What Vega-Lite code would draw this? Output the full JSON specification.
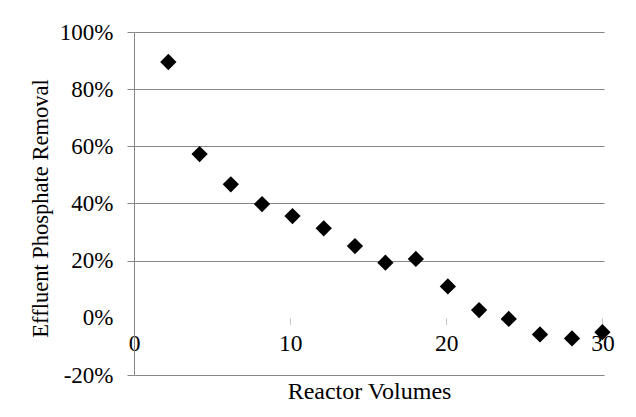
{
  "$schema": "https://vega.github.io/schema/vega-lite/v6.json",
  "width": 470,
  "height": 343,
  "autosize": "none",
  "padding": {"left": 134, "top": 32, "right": 32, "bottom": 42},
  "background": "white",
  "config": {
    "view": {"stroke": null},
    "font": "Liberation Serif",
    "axis": {"labelFont": "Liberation Serif", "titleFont": "Liberation Serif"}
  },
  "data": {"values": [
    {"volumes": 2.2, "removal": 0.895},
    {"volumes": 4.2, "removal": 0.573},
    {"volumes": 6.2, "removal": 0.467},
    {"volumes": 8.2, "removal": 0.398},
    {"volumes": 10.15, "removal": 0.356},
    {"volumes": 12.15, "removal": 0.313},
    {"volumes": 14.15, "removal": 0.251},
    {"volumes": 16.1, "removal": 0.193},
    {"volumes": 18.05, "removal": 0.206},
    {"volumes": 20.1, "removal": 0.11},
    {"volumes": 22.1, "removal": 0.027},
    {"volumes": 24.0, "removal": -0.004},
    {"volumes": 26.0, "removal": -0.058},
    {"volumes": 28.05, "removal": -0.072},
    {"volumes": 30.0, "removal": -0.05}
  ]},
  "mark": {"type": "point", "shape": "diamond", "filled": true, "size": 265, "color": "black", "opacity": 1},
  "encoding": {
    "x": {
      "field": "volumes", "type": "quantitative",
      "scale": {"domain": [0, 30.1], "nice": false, "zero": false},
      "axis": {
        "values": [0, 10, 20, 30], "offset": -57.2, "domain": false, "grid": false,
        "tickSize": 7, "tickColor": "#c8c8c8",
        "labelFontSize": 23.5, "labelPadding": 7, "labelColor": "black", "labelFlush": false,
        "title": "Reactor Volumes", "titleFontSize": 24, "titleFontWeight": "normal",
        "titlePadding": 24, "titleColor": "black"
      }
    },
    "y": {
      "field": "removal", "type": "quantitative",
      "scale": {"domain": [-0.2, 1], "nice": false},
      "axis": {
        "values": [-0.2, 0, 0.2, 0.4, 0.6, 0.8, 1],
        "labelExpr": "replace(format(datum.value, '.0%'), '\u2212', '-')",
        "domainColor": "#868686", "tickSize": 7,
        "tickColor": {"condition": {"test": "datum.value === 0", "value": "transparent"}, "value": "#868686"},
        "gridColor": {"condition": {"test": "datum.value === 0", "value": "transparent"}, "value": "#868686"},
        "gridOpacity": 1,
        "labelFontSize": 23, "labelPadding": 14, "labelColor": "black",
        "title": "Effluent Phosphate Removal", "titleFontSize": 22.5, "titleFontWeight": "normal",
        "titlePadding": 7, "titleY": 176, "titleColor": "black"
      }
    }
  }
}
